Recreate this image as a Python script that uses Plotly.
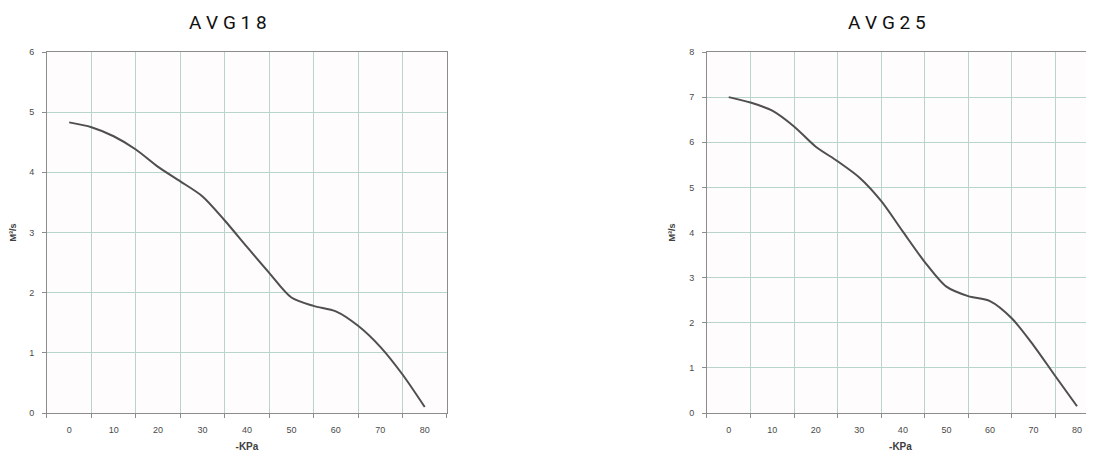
import plotly.graph_objects as go
from plotly.subplots import make_subplots

# давление, -KPa
pressure = [0, 5, 10, 15, 20, 25, 30, 35, 40, 45, 50, 55, 60, 65, 70, 75, 80]

# расход для двух моделей
flow_avg18 = [4.83, 4.75, 4.60, 4.38, 4.09, 3.85, 3.60, 3.20, 2.76, 2.33,
              1.92, 1.78, 1.69, 1.45, 1.10, 0.64, 0.10]
flow_avg25 = [7.00, 6.88, 6.70, 6.35, 5.90, 5.58, 5.22, 4.70, 4.02, 3.35,
              2.80, 2.59, 2.48, 2.10, 1.50, 0.82, 0.15]

x_ticks = [0, 10, 20, 30, 40, 50, 60, 70, 80]
x_grid = [-5, 5, 15, 25, 35, 45, 55, 65, 75, 85]

titles = ["A V G 1 8", "A V G 2 5"]
y_max = [6, 8]
x_max = [85, 83.9]   # правый график обрезан краем картинки

GRID = "#b9d3cd"
AXIS = "#8c8c8c"
TICK_FONT = dict(family="Liberation Sans, Arial, sans-serif", size=9, color="#4a4a4a")

# страница сдвигает график на 8px (отступ body), поэтому размеры меньше
fig = make_subplots(rows=1, cols=2, horizontal_spacing=0.2)
fig.update_layout(
    xaxis=dict(domain=[0.0359, 0.4042]),
    xaxis2=dict(domain=[0.6436, 1.0]),
)

for i, flow in enumerate([flow_avg18, flow_avg25]):
    col = i + 1
    fig.add_trace(
        go.Scatter(
            x=pressure, y=flow,
            mode="lines",
            line=dict(color="#4f4f4f", width=2, shape="spline", smoothing=0.8),
            showlegend=False,
        ),
        row=1, col=col
    )

    fig.update_xaxes(
        range=[-5, x_max[i]], automargin=False,
        tickmode="array", tickvals=x_ticks, ticktext=[str(v) for v in x_ticks],
        ticks="", showgrid=False, zeroline=False,
        tickfont=TICK_FONT, ticklabelstandoff=8,
        minor=dict(tickmode="array", tickvals=x_grid, showgrid=True,
                   gridcolor=GRID, gridwidth=1, ticks="outside",
                   ticklen=4, tickcolor=AXIS),
        showline=True, linecolor=AXIS, linewidth=1, mirror=True,
        title=dict(text="<b>-KPa</b>", font=dict(family="Liberation Sans, Arial, sans-serif",
                                                 size=10, color="#404040"), standoff=9),
        row=1, col=col
    )
    fig.update_yaxes(
        range=[0, y_max[i]], dtick=1, automargin=False,
        showgrid=True, gridcolor=GRID, gridwidth=1, zeroline=False,
        ticks="outside", ticklen=4, tickcolor=AXIS,
        tickfont=TICK_FONT, ticklabelstandoff=6,
        showline=True, linecolor=AXIS, linewidth=1, mirror=(col == 1),
        title=dict(text="<b>M³/s</b>", font=dict(family="Liberation Sans, Arial, sans-serif",
                                                 size=9, color="#404040"), standoff=11),
        row=1, col=col
    )

# заголовки над графиками
for x_center, text in zip([0.2026, 0.8094], titles):
    fig.add_annotation(
        x=x_center, y=1, xref="paper", yref="paper",
        xanchor="center", yanchor="middle", yshift=30,
        text=text, showarrow=False,
        font=dict(family="Roboto, sans-serif", size=19, color="#111111"),
    )

fig.update_layout(
    width=1086, height=446,
    margin=dict(l=0, r=0, t=44, b=41),
    plot_bgcolor="#fefcfd",
    paper_bgcolor="white",
)

fig.write_html("out.html")
